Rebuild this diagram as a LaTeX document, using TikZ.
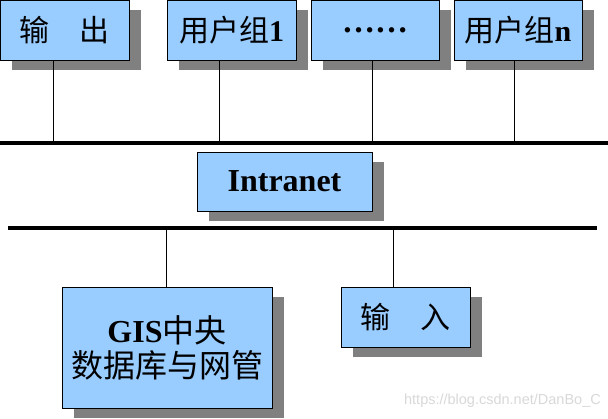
\documentclass[tikz,border=0pt]{standalone}
\usepackage{fontspec}
\setmainfont{Liberation Serif}
\newfontfamily\cjk{Noto Sans CJK SC}
\newfontfamily\wmfont{Liberation Sans}
\usetikzlibrary{shadows}
\definecolor{boxblue}{HTML}{99CCFF}
\definecolor{shadowgray}{HTML}{808080}
\definecolor{wmgray}{HTML}{D8D8D8}
\begin{document}
\begin{tikzpicture}[x=1pt,y=-1pt,
  box/.style={draw=black, line width=0.9pt, fill=boxblue, inner sep=0pt,
    general shadow={fill=shadowgray, shadow xshift=12pt, shadow yshift=-10pt},
    font=\fontsize{30}{35}\selectfont, align=center},
  bus/.style={line width=4pt},
  link/.style={line width=0.9pt}]
\useasboundingbox (0,0) rectangle (608,419);
% buses
\coordinate (tbL) at (0,143);
\coordinate (tbR) at (608,143);
\coordinate (bbL) at (8,228);
\coordinate (bbR) at (597,228);
% top boxes
\node[box, minimum width=129pt, minimum height=60pt] (out) at (64.5,30) {\cjk 输　出};
\node[box, minimum width=129pt, minimum height=60pt] (ug1) at (231.5,30) {{\cjk 用户组}\textbf{1}};
\node[box, minimum width=128pt, minimum height=60pt, font=\fontsize{33}{35}\selectfont] (dots) at (375,30) {\textbf{\raisebox{-5pt}{……}}};
\node[box, minimum width=128pt, minimum height=60pt] (ugn) at (518,30) {{\cjk 用户组}\textbf{n}};
% middle
\node[box, minimum width=175pt, minimum height=59pt, font=\fontsize{32}{35}\selectfont] (net) at (284.5,181.5) {\textbf{Intranet}};
% bottom boxes
\node[box, minimum width=210pt, minimum height=121pt, font=\fontsize{32}{35}\selectfont] (gis) at (167,347.5) {\textbf{GIS}{\cjk 中央}\\{\cjk 数据库与网管}};
\node[box, minimum width=129pt, minimum height=60pt] (inp) at (405.5,317) {\cjk 输　入};
% buses
\draw[bus] (tbL) -- (tbR);
\draw[bus] (bbL) -- (bbR);
% connectors
\draw[link] ([xshift=-11.5pt]out.south) -- ([xshift=-11.5pt]out.south |- tbL);
\draw[link] ([xshift=-12.5pt]ug1.south) -- ([xshift=-12.5pt]ug1.south |- tbL);
\draw[link] ([xshift=-3pt]dots.south) -- ([xshift=-3pt]dots.south |- tbL);
\draw[link] ([xshift=-4pt]ugn.south) -- ([xshift=-4pt]ugn.south |- tbL);
\draw[link] ([xshift=-1pt]gis.north) -- ([xshift=-1pt]gis.north |- bbL);
\draw[link] ([xshift=-12.5pt]inp.north) -- ([xshift=-12.5pt]inp.north |- bbL);
% watermark
\node[anchor=east, text=wmgray, font=\wmfont\fontsize{14.5}{16}\selectfont, inner sep=0pt] (wm) at (601,401) {https://blog.csdn.net/DanBo\_C};
\end{tikzpicture}
\end{document}
